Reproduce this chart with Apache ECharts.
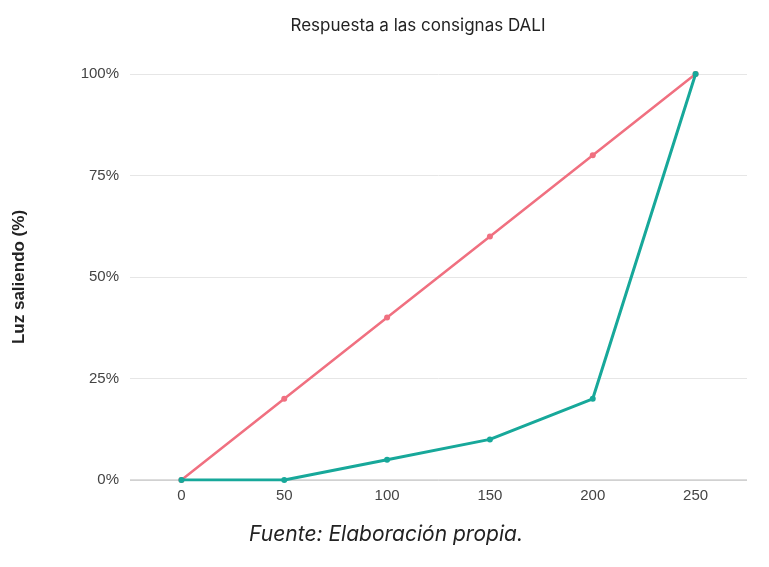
<!DOCTYPE html>
<html><head><meta charset="utf-8">
<script src="https://cdn.jsdelivr.net/npm/echarts@6/dist/echarts.min.js"></script>
<style>html,body{margin:0;padding:0;background:#fff}#c{width:769px;height:567px}</style>
</head><body><div id="c"></div>
<script>
const categories = ['0','50','100','150','200','250'];
const ideal = [0, 20, 40, 60, 80, 100];
const dali = [0, 0, 5, 10, 20, 100];
const yTicks = [0, 25, 50, 75, 100];

const chart = echarts.init(document.getElementById('c'), null, {renderer:'canvas'});
chart.setOption({
  backgroundColor:'#fff',
  animation:false,
  title:[{
    text:'Respuesta a las consignas DALI', left:413, top:12, textAlign:'center',
    textStyle:{fontFamily:'Inter', fontWeight:'normal', fontSize:17, color:'#222'}
  },{
    text:'Fuente: Elaboración propia.', left:381, top:519, textAlign:'center',
    textStyle:{fontFamily:'Inter', fontStyle:'italic', fontWeight:'normal', fontSize:21, color:'#222'}
  }],
  grid:{left:130, right:22, top:74, bottom:87},
  xAxis:{
    type:'category', data:categories, boundaryGap:true,
    axisLine:{show:false}, axisTick:{show:false},
    axisLabel:{fontFamily:'Liberation Sans', fontSize:15, color:'#444', margin:8}
  },
  yAxis:{
    type:'value', min:0, max:100, interval:25,
    name:'Luz saliendo (%)', nameLocation:'middle', nameGap:102,
    nameTextStyle:{fontFamily:'Liberation Sans', fontWeight:'bold', fontSize:17, color:'#222'},
    axisLabel:{fontFamily:'Liberation Sans', fontSize:15, color:'#444', margin:11,
      formatter:v => yTicks.includes(v) ? v + '%' : ''},
    axisLine:{show:false}, axisTick:{show:false},
    splitLine:{lineStyle:{color:'#e6e6e6', width:1}}
  },
  series:[{
    type:'line', data:ideal, symbol:'circle', symbolSize:6,
    lineStyle:{color:'#f07080', width:2.5}, itemStyle:{color:'#f07080'}, z:2
  },{
    type:'line', data:dali, symbol:'circle', symbolSize:6,
    lineStyle:{color:'#17a89a', width:3}, itemStyle:{color:'#17a89a'}, z:3
  }],
  graphic:[{
    type:'line', shape:{x1:130, y1:480, x2:747, y2:480},
    style:{stroke:'#bbbbbb', lineWidth:1}, z:1
  }]
});
</script></body></html>
